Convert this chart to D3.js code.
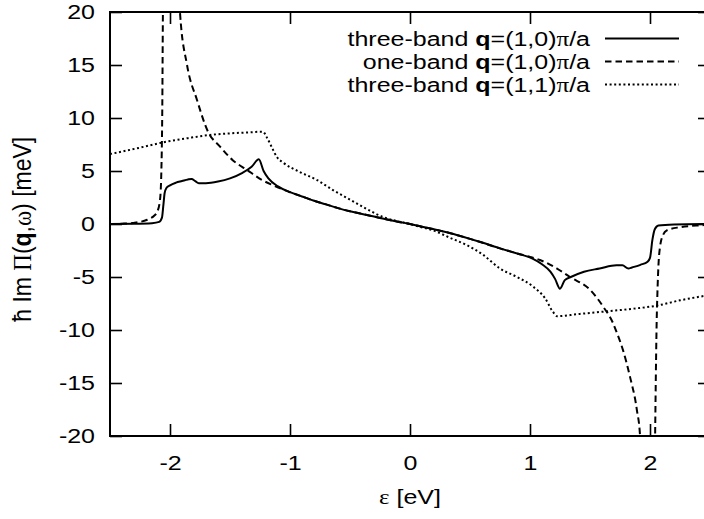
<!DOCTYPE html>
<html>
<head>
<meta charset="utf-8">
<script src="https://cdn.jsdelivr.net/npm/d3@7"></script>
<style>
    body { margin: 0; background: #fff; }
    svg { display: block; }
    text { font-family: "Liberation Sans", Arial, sans-serif; font-size: 20px; fill: #000; }
    .greek { font-family: "Liberation Serif", "DejaVu Serif", serif; }
</style>
</head>
<body>
<div id="chart"></div>
<script>
// values: [energy eV, hbar Im Pi meV]
const threeBand10 = [
    [-2.5, 0], [-2.3, 0.02], [-2.15, 0.08], [-2.09, 0.2], [-2.067, 0.6], [-2.055, 1.8], [-2.045, 2.9],
    [-2.03, 3.4], [-2.0, 3.65], [-1.95, 3.9], [-1.9, 4.05], [-1.85, 4.2], [-1.82, 4.25], [-1.79, 4.05],
    [-1.76, 3.85], [-1.7, 3.85], [-1.6, 4.0], [-1.5, 4.3], [-1.4, 4.8], [-1.32, 5.4], [-1.26, 6.1],
    [-1.22, 5.0], [-1.18, 4.3], [-1.1, 3.55], [-1.0, 3.0], [-0.9, 2.6], [-0.8, 2.2], [-0.7, 1.85],
    [-0.6, 1.5], [-0.5, 1.2], [-0.4, 0.95], [-0.3, 0.7], [-0.2, 0.45], [-0.1, 0.22], [0, 0],
    [0.1, -0.25], [0.2, -0.5], [0.33, -0.85], [0.5, -1.4], [0.6, -1.75], [0.75, -2.3], [0.9, -2.8],
    [1.025, -3.3], [1.1, -3.8], [1.17, -4.5], [1.21, -5.2], [1.25, -6.1], [1.29, -5.3], [1.34, -5.0],
    [1.45, -4.5], [1.58, -4.2], [1.72, -3.9], [1.77, -3.9], [1.82, -4.2], [1.85, -4.1], [1.92, -3.85],
    [1.98, -3.55], [2.0, -3.2], [2.02, -1.5], [2.04, -0.5], [2.07, -0.15], [2.2, -0.05], [2.5, 0]
];
const oneBand10 = [
    [-2.5, 0], [-2.4, 0.03], [-2.31, 0.1], [-2.19, 0.4], [-2.13, 0.8], [-2.108, 1.1], [-2.083, 2.3],
    [-2.072, 5], [-2.065, 10], [-2.058, 21], [-2.02, 35], [-1.96, 35], [-1.917, 20], [-1.858, 15],
    [-1.775, 11.7], [-1.683, 8.7], [-1.583, 7.3], [-1.475, 6.0], [-1.358, 5.1], [-1.233, 4.15],
    [-1.15, 3.7], [-1.067, 3.3], [-1.0, 3.0], [-0.9, 2.6], [-0.8, 2.2], [-0.7, 1.85], [-0.6, 1.5],
    [-0.5, 1.2], [-0.4, 0.95], [-0.3, 0.7], [-0.2, 0.45], [-0.1, 0.22], [0, 0], [0.1, -0.25],
    [0.2, -0.5], [0.33, -0.85], [0.5, -1.4], [0.6, -1.75], [0.75, -2.3], [0.9, -2.8], [1.0, -3.1],
    [1.083, -3.4], [1.225, -4.2], [1.333, -5.0], [1.5, -6.2], [1.61, -7.8], [1.69, -9.3],
    [1.725, -10.3], [1.775, -11.9], [1.833, -14.4], [1.89, -17.5], [1.917, -20], [1.96, -35],
    [2.02, -35], [2.058, -8], [2.07, -4], [2.083, -2.2], [2.11, -1.0], [2.14, -0.6], [2.25, -0.3],
    [2.45, -0.1], [2.5, -0.05]
];
const threeBand11 = [
    [-2.5, 6.6], [-2.25, 7.2], [-2.058, 7.7], [-1.85, 8.1], [-1.667, 8.4], [-1.5, 8.55], [-1.333, 8.65],
    [-1.25, 8.7], [-1.225, 8.7], [-1.19, 8.1], [-1.15, 7.2], [-1.108, 6.3], [-1.058, 5.8], [-0.917, 4.9],
    [-0.775, 4.15], [-0.642, 3.2], [-0.5, 2.3], [-0.358, 1.4], [-0.225, 0.66], [-0.1, 0.25], [0, 0],
    [0.058, -0.2], [0.192, -0.6], [0.333, -1.3], [0.475, -2.0], [0.608, -2.9], [0.75, -4.2],
    [0.892, -5.0], [1.025, -5.9], [1.125, -7.0], [1.192, -8.3], [1.225, -8.7], [1.4, -8.5],
    [1.583, -8.3], [1.85, -8.0], [2.058, -7.7], [2.25, -7.2], [2.5, -6.7]
];

const xTicks = [-2, -1, 0, 1, 2];
const yTicks = [-20, -15, -10, -5, 0, 5, 10, 15, 20];
const seriesNames = ["three-band", "one-band", "three-band"];
const seriesQ = ["(1,0)", "(1,0)", "(1,1)"];
const seriesDash = ["none", "6.5,4", "2,2.6"];

const width = 704;
const height = 519;
const margin = {top: 12, left: 110, plotW: 600, plotH: 424};
const stretch = 1.25; // the reference text is wider than it is tall

const svg = d3.select("#chart").append("svg")
    .attr("width", width)
    .attr("height", height);

const xScale = d3.scaleLinear().domain([-2.5, 2.5]).range([margin.left, margin.left + margin.plotW]);
const yScale = d3.scaleLinear().domain([-20, 20]).range([margin.top + margin.plotH, margin.top]);

svg.append("clipPath").attr("id", "plotclip")
    .append("rect")
    .attr("x", margin.left).attr("y", margin.top)
    .attr("width", margin.plotW).attr("height", margin.plotH);

// curves
const line = d3.line()
    .x(d => xScale(d[0]))
    .y(d => yScale(d[1]))
    .curve(d3.curveMonotoneX);

const allSeries = [threeBand10, oneBand10, threeBand11];
allSeries.forEach((s, i) => {
    svg.append("path")
        .datum(s)
        .attr("clip-path", "url(#plotclip)")
        .attr("d", line)
        .attr("fill", "none")
        .attr("stroke", "#000")
        .attr("stroke-width", 2)
        .attr("stroke-dasharray", seriesDash[i]);
});

// axes, ticks point inwards on all four sides
const bottom = margin.top + margin.plotH;
const right = margin.left + margin.plotW;
const plainNum = d => String(d); // keep the ascii hyphen like the reference

const xAxis = svg.append("g")
    .attr("transform", `translate(0,${bottom})`)
    .call(d3.axisBottom(xScale).tickValues(xTicks).tickFormat(plainNum)
        .tickSizeInner(-12).tickSizeOuter(0).tickPadding(20));
xAxis.selectAll("text").attr("transform", `scale(${stretch},1)`);

svg.append("g")
    .attr("transform", `translate(0,${margin.top})`)
    .call(d3.axisTop(xScale).tickValues(xTicks).tickSizeInner(-12).tickSizeOuter(0).tickFormat(""));

const yAxis = svg.append("g")
    .attr("transform", `translate(${margin.left},0)`)
    .call(d3.axisLeft(yScale).tickValues(yTicks).tickFormat(plainNum)
        .tickSizeInner(-12).tickSizeOuter(0).tickPadding(12));
yAxis.selectAll("text").attr("transform", `scale(${stretch},1)`);

svg.append("g")
    .attr("transform", `translate(${right},0)`)
    .call(d3.axisRight(yScale).tickValues(yTicks).tickSizeInner(-12).tickSizeOuter(0).tickFormat(""));

svg.selectAll(".domain").remove();
svg.selectAll(".tick line").attr("stroke", "#000").attr("stroke-width", 1.6);
svg.selectAll("g").attr("font-size", null).attr("font-family", null);

svg.append("rect")
    .attr("x", margin.left).attr("y", margin.top)
    .attr("width", margin.plotW).attr("height", margin.plotH)
    .attr("fill", "none").attr("stroke", "#000").attr("stroke-width", 2);

// axis titles
const xTitle = svg.append("g")
    .attr("transform", `translate(${xScale(0)},497) scale(${stretch},1)`)
    .append("text")
    .attr("text-anchor", "middle")
    .attr("dy", "0.35em");
xTitle.append("tspan").attr("class", "greek").text("ε");
xTitle.append("tspan").text(" [eV]");

const yTitle = svg.append("g")
    .attr("transform", `translate(22,${yScale(-0.5)}) scale(1.1,1) rotate(-90)`)
    .append("text")
    .attr("text-anchor", "middle")
    .style("font-size", "23px")
    .attr("dy", "0.35em");
yTitle.append("tspan").text("ħ Im ");
yTitle.append("tspan").attr("class", "greek").text("Π");
yTitle.append("tspan").text("(");
yTitle.append("tspan").attr("font-weight", "bold").text("q");
yTitle.append("tspan").text(",");
yTitle.append("tspan").attr("class", "greek").text("ω");
yTitle.append("tspan").text(") [meV]");

// legend
for (let i = 0; i < seriesNames.length; i++) {
    const ly = 38.5 + i * 23;
    const t = svg.append("g")
        .attr("transform", `translate(590,${ly}) scale(${stretch},1)`)
        .append("text")
        .attr("text-anchor", "end")
        .attr("dy", "0.35em");
    t.append("tspan").text(seriesNames[i] + " ");
    t.append("tspan").attr("font-weight", "bold").text("q");
    t.append("tspan").text("=" + seriesQ[i]);
    t.append("tspan").attr("class", "greek").text("π");
    t.append("tspan").text("/a");

    svg.append("line")
        .attr("x1", 605).attr("x2", 679)
        .attr("y1", ly).attr("y2", ly)
        .attr("stroke", "#000")
        .attr("stroke-width", 2)
        .attr("stroke-dasharray", seriesDash[i]);
}
</script>
</body>
</html>
